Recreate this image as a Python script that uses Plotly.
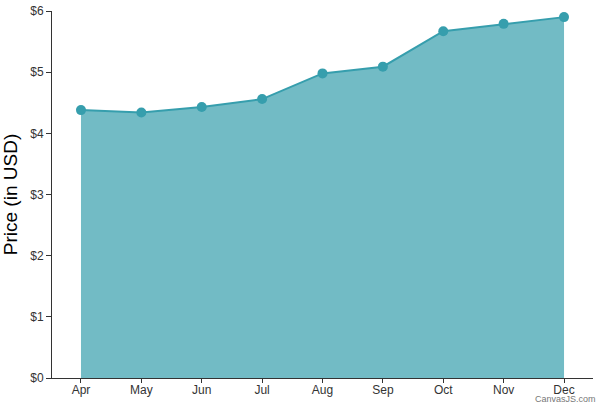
import plotly.graph_objects as go

# data
months = ["Apr", "May", "Jun", "Jul", "Aug", "Sep", "Oct", "Nov", "Dec"]
price = [4.38, 4.34, 4.43, 4.56, 4.98, 5.09, 5.67, 5.79, 5.90]
y_ticks = [0, 1, 2, 3, 4, 5, 6]
y_labels = ["$0", "$1", "$2", "$3", "$4", "$5", "$6"]

line_col = "#369EAD"
fill_col = "rgba(54,158,173,0.7)"
font = "Liberation Sans, Arial, sans-serif"

fig = go.Figure()
fig.add_trace(go.Scatter(
    x=months, y=price,
    mode="lines+markers",
    fill="tozeroy", fillcolor=fill_col,
    line=dict(color=line_col, width=2),
    marker=dict(color=line_col, size=10),
    hoverinfo="x+y",
))

fig.update_layout(
    width=602, height=405,
    margin=dict(l=52, r=9, t=11, b=27),
    paper_bgcolor="white", plot_bgcolor="white",
    showlegend=False,
    font=dict(family=font, color="#333", size=12),
    xaxis=dict(
        type="category", range=[-0.48, 8.48], automargin=False,
        showline=True, linecolor="#333", linewidth=1,
        ticks="outside", ticklen=4, tickcolor="#333",
        ticklabelstandoff=-3,
        showgrid=False, zeroline=False,
        tickfont=dict(size=12, color="#333"),
    ),
    yaxis=dict(
        range=[0, 6], tickvals=y_ticks, ticktext=y_labels, automargin=False,
        showline=True, linecolor="#333", linewidth=1,
        ticks="outside", ticklen=5, tickcolor="#333",
        showgrid=False, zeroline=False,
        tickfont=dict(size=12, color="#333"),
        title=dict(text="Price (in USD)", font=dict(size=19, color="#000"), standoff=10),
    ),
)

fig.add_annotation(
    text="CanvasJS.com", xref="paper", yref="paper",
    x=1.009, y=-0.057, xanchor="right", yanchor="middle",
    showarrow=False, font=dict(size=9, color="#777", family=font),
)

# drop the page's default 8px body margin so the figure sits at the top-left corner
fig.write_html("out.html", config={"displayModeBar": False},
               post_script="document.body.style.margin='0';")
